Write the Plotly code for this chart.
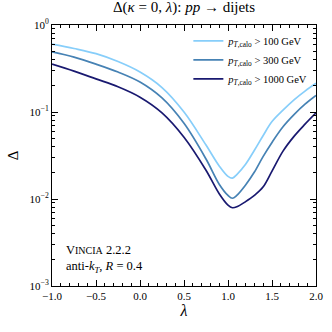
import plotly.graph_objects as go

# lambda values and Delta(kappa=0, lambda) for each pT cut
lam = [-1.0, -0.75, -0.5, -0.25, 0.0, 0.25, 0.5, 0.75, 0.9, 1.0, 1.05, 1.1,
       1.2, 1.3, 1.4, 1.5, 1.625, 1.75, 1.875, 2.0]

delta_100 = [0.603, 0.537, 0.468, 0.380, 0.288, 0.191, 0.100, 0.0417, 0.0240,
             0.0182, 0.0174, 0.0191, 0.0251, 0.0363, 0.0537, 0.0776, 0.105,
             0.138, 0.174, 0.214]
delta_300 = [0.490, 0.427, 0.355, 0.288, 0.221, 0.145, 0.0741, 0.0288, 0.0148,
             0.0110, 0.0102, 0.0110, 0.0145, 0.0204, 0.0309, 0.0447, 0.0676,
             0.0933, 0.123, 0.155]
delta_1000 = [0.355, 0.295, 0.240, 0.195, 0.148, 0.0977, 0.0513, 0.0214,
              0.0115, 0.00851, 0.00794, 0.00813, 0.00933, 0.0110, 0.0138,
              0.0209, 0.0355, 0.0525, 0.0724, 0.0977]

series_names = ["<i>p</i><sub><i>T</i>,calo</sub> > 100 GeV",
                "<i>p</i><sub><i>T</i>,calo</sub> > 300 GeV",
                "<i>p</i><sub><i>T</i>,calo</sub> > 1000 GeV"]
colors = ["#87CEFA", "#4682B4", "#191970"]

FONT = "Liberation Serif"

fig = go.Figure()
for name, vals, col in zip(series_names, [delta_100, delta_300, delta_1000], colors):
    fig.add_trace(go.Scatter(x=lam, y=vals, name=name, mode="lines",
                             line=dict(color=col, width=1.7, shape="spline",
                                       smoothing=1.0)))

minor_y = [m * 10 ** e for e in range(-3, 0) for m in range(2, 10)]

fig.update_layout(
    width=332, height=332,
    margin=dict(l=52, r=16, t=25, b=46, autoexpand=False),
    paper_bgcolor="white", plot_bgcolor="white",
    font=dict(family=FONT, size=11, color="black"),
    title=dict(text="Δ(<i>κ</i> = 0, <i>λ</i>): <i>pp</i> → dijets",
               x=0.5, xref="paper", xanchor="center", y=0.995, yanchor="top",
               font=dict(size=15, family=FONT)),
    legend=dict(x=0.99, y=0.995, xanchor="right", yanchor="top",
                bgcolor="rgba(0,0,0,0)", borderwidth=0,
                font=dict(size=10.5, family=FONT),
                itemwidth=30, tracegroupgap=0),
    showlegend=True,
)

fig.update_xaxes(
    range=[-1.0, 2.0], tickmode="linear", tick0=-1.0, dtick=0.5,
    tickformat=".1f", ticks="inside", ticklen=6, tickcolor="black",
    showline=True, linecolor="black", linewidth=1, mirror="allticks",
    showgrid=False, zeroline=False, automargin=False,
    minor=dict(ticks="inside", ticklen=3, dtick=0.1, tick0=-1.0,
               tickcolor="black", showgrid=False),
    title=dict(text="<i>λ</i>", font=dict(size=16), standoff=2),
    tickfont=dict(size=11),
)

fig.update_yaxes(
    type="log", range=[-3, 0],
    tickmode="array", tickvals=[1e-3, 1e-2, 1e-1, 1],
    ticktext=["10<sup>−3</sup>", "10<sup>−2</sup>", "10<sup>−1</sup>", "10<sup>0</sup>"],
    ticks="inside", ticklen=6, tickcolor="black",
    showline=True, linecolor="black", linewidth=1, mirror="allticks",
    showgrid=False, zeroline=False, automargin=False,
    minor=dict(ticks="inside", ticklen=3, tickmode="array", tickvals=minor_y,
               tickcolor="black", showgrid=False),
    title=dict(text="Δ", font=dict(size=15), standoff=7),
    tickfont=dict(size=11),
)

fig.add_annotation(
    x=0.045, y=0.035, xref="paper", yref="paper", xanchor="left", yanchor="bottom",
    align="left", showarrow=False,
    text="V<span style='font-size:10px'>INCIA</span> 2.2.2<br>"
         "anti-<i>k</i><sub><i>T</i></sub>, <i>R</i> = 0.4",
    font=dict(size=12.5, family=FONT),
)

fig.write_html("out.html", config={"displayModeBar": False},
               post_script="document.body.style.margin='0';")
